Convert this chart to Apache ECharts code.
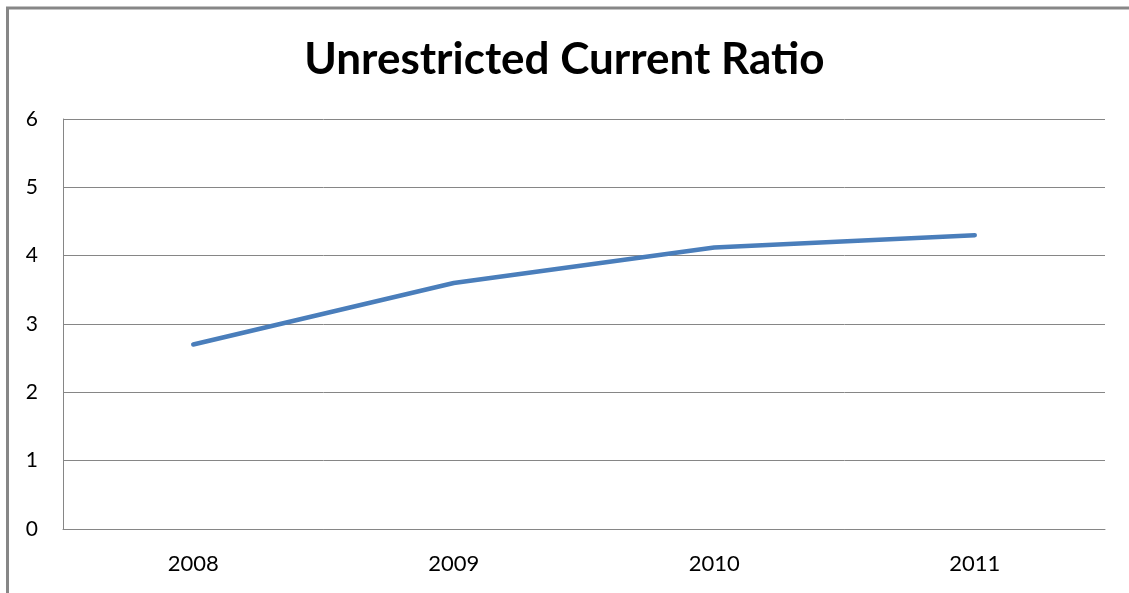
<!DOCTYPE html>
<html><head><meta charset="utf-8">
<script src="https://cdn.jsdelivr.net/npm/echarts@6/dist/echarts.min.js"></script>
<style>html,body{margin:0;padding:0;background:#fff}#c{width:1129px;height:593px}</style>
</head><body><div id="c"></div>
<script>
const titleText = 'Unrestricted Current Ratio';
const categories = ['2008', '2009', '2010', '2011'];
const ratioValues = [2.7, 3.6, 4.12, 4.3];
const yTicks = [0, 1, 2, 3, 4, 5, 6];

const chart = echarts.init(document.getElementById('c'));
chart.setOption({
  animation: false,
  backgroundColor: '#fff',
  graphic: [
    { type: 'line', shape: { x1: 7.5, y1: 8, x2: 7.5, y2: 593 }, style: { stroke: '#878787', lineWidth: 3 } },
    { type: 'line', shape: { x1: 6, y1: 8, x2: 1129, y2: 8 }, style: { stroke: '#878787', lineWidth: 3 } }
  ],
  title: {
    text: titleText, left: 'center', top: 33,
    textStyle: { fontFamily: 'Lato', fontWeight: 'bold', fontSize: 44, color: '#000' }
  },
  grid: { left: 63, right: 24, top: 119, bottom: 64, containLabel: false },
  xAxis: {
    type: 'category', data: categories, boundaryGap: true,
    axisLine: { lineStyle: { color: '#868686', width: 1 } },
    axisTick: { show: false },
    axisLabel: { color: '#000', fontSize: 22, fontFamily: 'Lato', margin: 24 }
  },
  yAxis: {
    type: 'value', min: yTicks[0], max: yTicks[yTicks.length - 1], interval: 1,
    axisLine: { show: true, lineStyle: { color: '#868686', width: 1 } },
    axisTick: { show: false },
    splitLine: { lineStyle: { color: '#868686', width: 1 } },
    axisLabel: { color: '#000', fontSize: 21, fontFamily: 'Lato', margin: 25 }
  },
  series: [{
    type: 'line', data: ratioValues, symbol: 'none',
    lineStyle: { color: '#4a7ebb', width: 4.5, cap: 'round' }
  }]
});
</script></body></html>
